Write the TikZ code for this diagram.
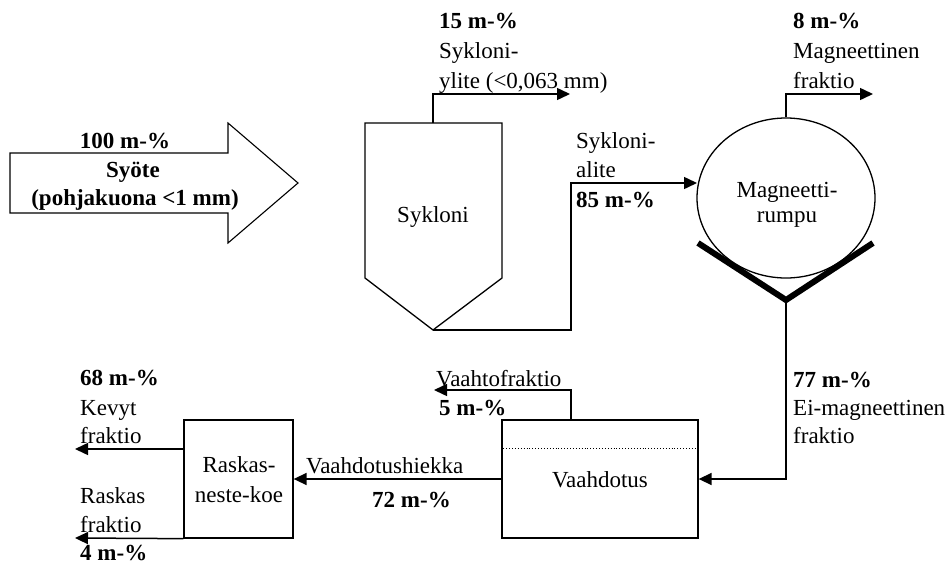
\documentclass[tikz,border=0pt]{standalone}
\usepackage{fontspec}
\setmainfont{Liberation Serif}
\usetikzlibrary{arrows.meta,shapes.geometric,calc}

\begin{document}
\begin{tikzpicture}[x=1pt,y=-1pt,
  txt/.style={anchor=base west,inner sep=0pt,font=\fontsize{23}{28}\selectfont},
  txtb/.style={txt,font=\fontsize{23}{28}\selectfont\bfseries},
  ctxt/.style={anchor=base,inner sep=0pt,font=\fontsize{23}{28}\selectfont},
  ctxtb/.style={ctxt,font=\fontsize{23}{28}\selectfont\bfseries},
  outline/.style={draw=black,line width=1.3pt},
  unit/.style={outline,rectangle,inner sep=0pt},
  flow/.style={draw=black,line width=1.5pt,-{Triangle[length=13pt,width=12pt]}},
  plain/.style={draw=black,line width=1.5pt}]
\useasboundingbox (0,0) rectangle (946,565);

% ---- feed arrow ----
\draw[outline,line width=1.1pt] (10,153) -- (228,153) -- (228,123) -- (298,183)
  -- (228,243) -- (228,213) -- (10,213) -- cycle;
\node[ctxtb] (feedA) at (125,148) {100 m-\%};
\node[ctxtb] (feedB) at (133,177) {Syöte};
\node[ctxtb] (feedC) at (135,205) {(pohjakuona <1 mm)};

% ---- cyclone ----
\draw[outline] (365,123) -- (502,123) -- (502,278) -- (433,330) -- (365,278) -- cycle;
\coordinate (sykTop) at (433,123);
\coordinate (sykApex) at (433,330);
\node[ctxt] (sykLbl) at (433,222) {Sykloni};

\coordinate (yliteEnd) at (570,94);
\draw[flow] (sykTop) |- (yliteEnd);
\node[txtb] (ylA) at (439,28) {15 m-\%};
\node[txt] (ylB) at (439,58) {Sykloni-};
\node[txt] (ylC) at (439,88) {ylite (<0,063 mm)};

% ---- magnetic drum ----
\node[ellipse,outline,minimum width=178pt,minimum height=160pt,inner sep=0pt] (drum) at (786,198) {};
\node[ctxt] (drumA) at (787,197) {Magneetti-};
\node[ctxt] (drumB) at (787,222) {rumpu};
\coordinate (drumIn) at (697,183);
\coordinate (underBend) at (571,330);
\draw[flow] (sykApex) -- (underBend) |- (drumIn);
\node[txt] (alA) at (576,148) {Sykloni-};
\node[txt] (alB) at (576,177) {alite};
\node[txtb] (alC) at (576,207) {85 m-\%};

\coordinate (magEnd) at (873,94);
\draw[flow] (drum.north) |- (magEnd);
\node[txtb] (mgA) at (793,28) {8 m-\%};
\node[txt] (mgB) at (793,58) {Magneettinen};
\node[txt] (mgC) at (793,88) {fraktio};

% collecting trough under the drum
\coordinate (vL) at (698,243);
\coordinate (vApex) at (786,300);
\coordinate (vR) at (873,243);
\draw[line width=6pt] (vL) -- (vApex) -- (vR);

% ---- flotation ----
\node[unit,minimum width=196pt,minimum height=118pt] (vaah) at (600,479) {};
\node[ctxt] (vaahLbl) at (600,487) {Vaahdotus};
\draw[dotted,line width=0.9pt] ($(vaah.north west)+(2,29)$) -- ($(vaah.north east)+(-2,29)$);
\draw[flow] (vApex) |- (vaah.east);
\node[txtb] (nmA) at (793,387) {77 m-\%};
\node[txt] (nmB) at (793,415) {Ei-magneettinen};
\node[txt] (nmC) at (793,443) {fraktio};

\coordinate (frothOut) at ($(vaah.north west)!0.352!(vaah.north east)$);
\coordinate (frothEnd) at (434,390);
\draw[flow] (frothOut) |- (frothEnd);
\node[txt] (frA) at (436,386) {Vaahtofraktio};
\node[txtb] (frB) at (439,415) {5 m-\%};

% ---- heavy-liquid test ----
\node[unit,minimum width=109pt,minimum height=118pt] (rask) at (238.5,479) {};
\node[ctxt] (raskA) at (239,472) {Raskas-};
\node[ctxt] (raskB) at (239,502) {neste-koe};
\draw[flow] (vaah.west) -- (rask.east);
\node[txt] (taA) at (306,473) {Vaahdotushiekka};
\node[txtb] (taB) at (372,507) {72 m-\%};

\coordinate (lightOut) at (184,449);
\coordinate (lightEnd) at (75,449);
\draw[flow] (lightOut) -- (lightEnd);
\node[txtb] (lfA) at (80,385) {68 m-\%};
\node[txt] (lfB) at (80,415) {Kevyt};
\node[txt] (lfC) at (80,443) {fraktio};

\coordinate (heavyEnd) at (75,538);
\draw[flow] (rask.south west) -- (heavyEnd);
\node[txt] (hfA) at (80,503) {Raskas};
\node[txt] (hfB) at (80,532) {fraktio};
\node[txtb] (hfC) at (80,560) {4 m-\%};
\end{tikzpicture}
\end{document}
